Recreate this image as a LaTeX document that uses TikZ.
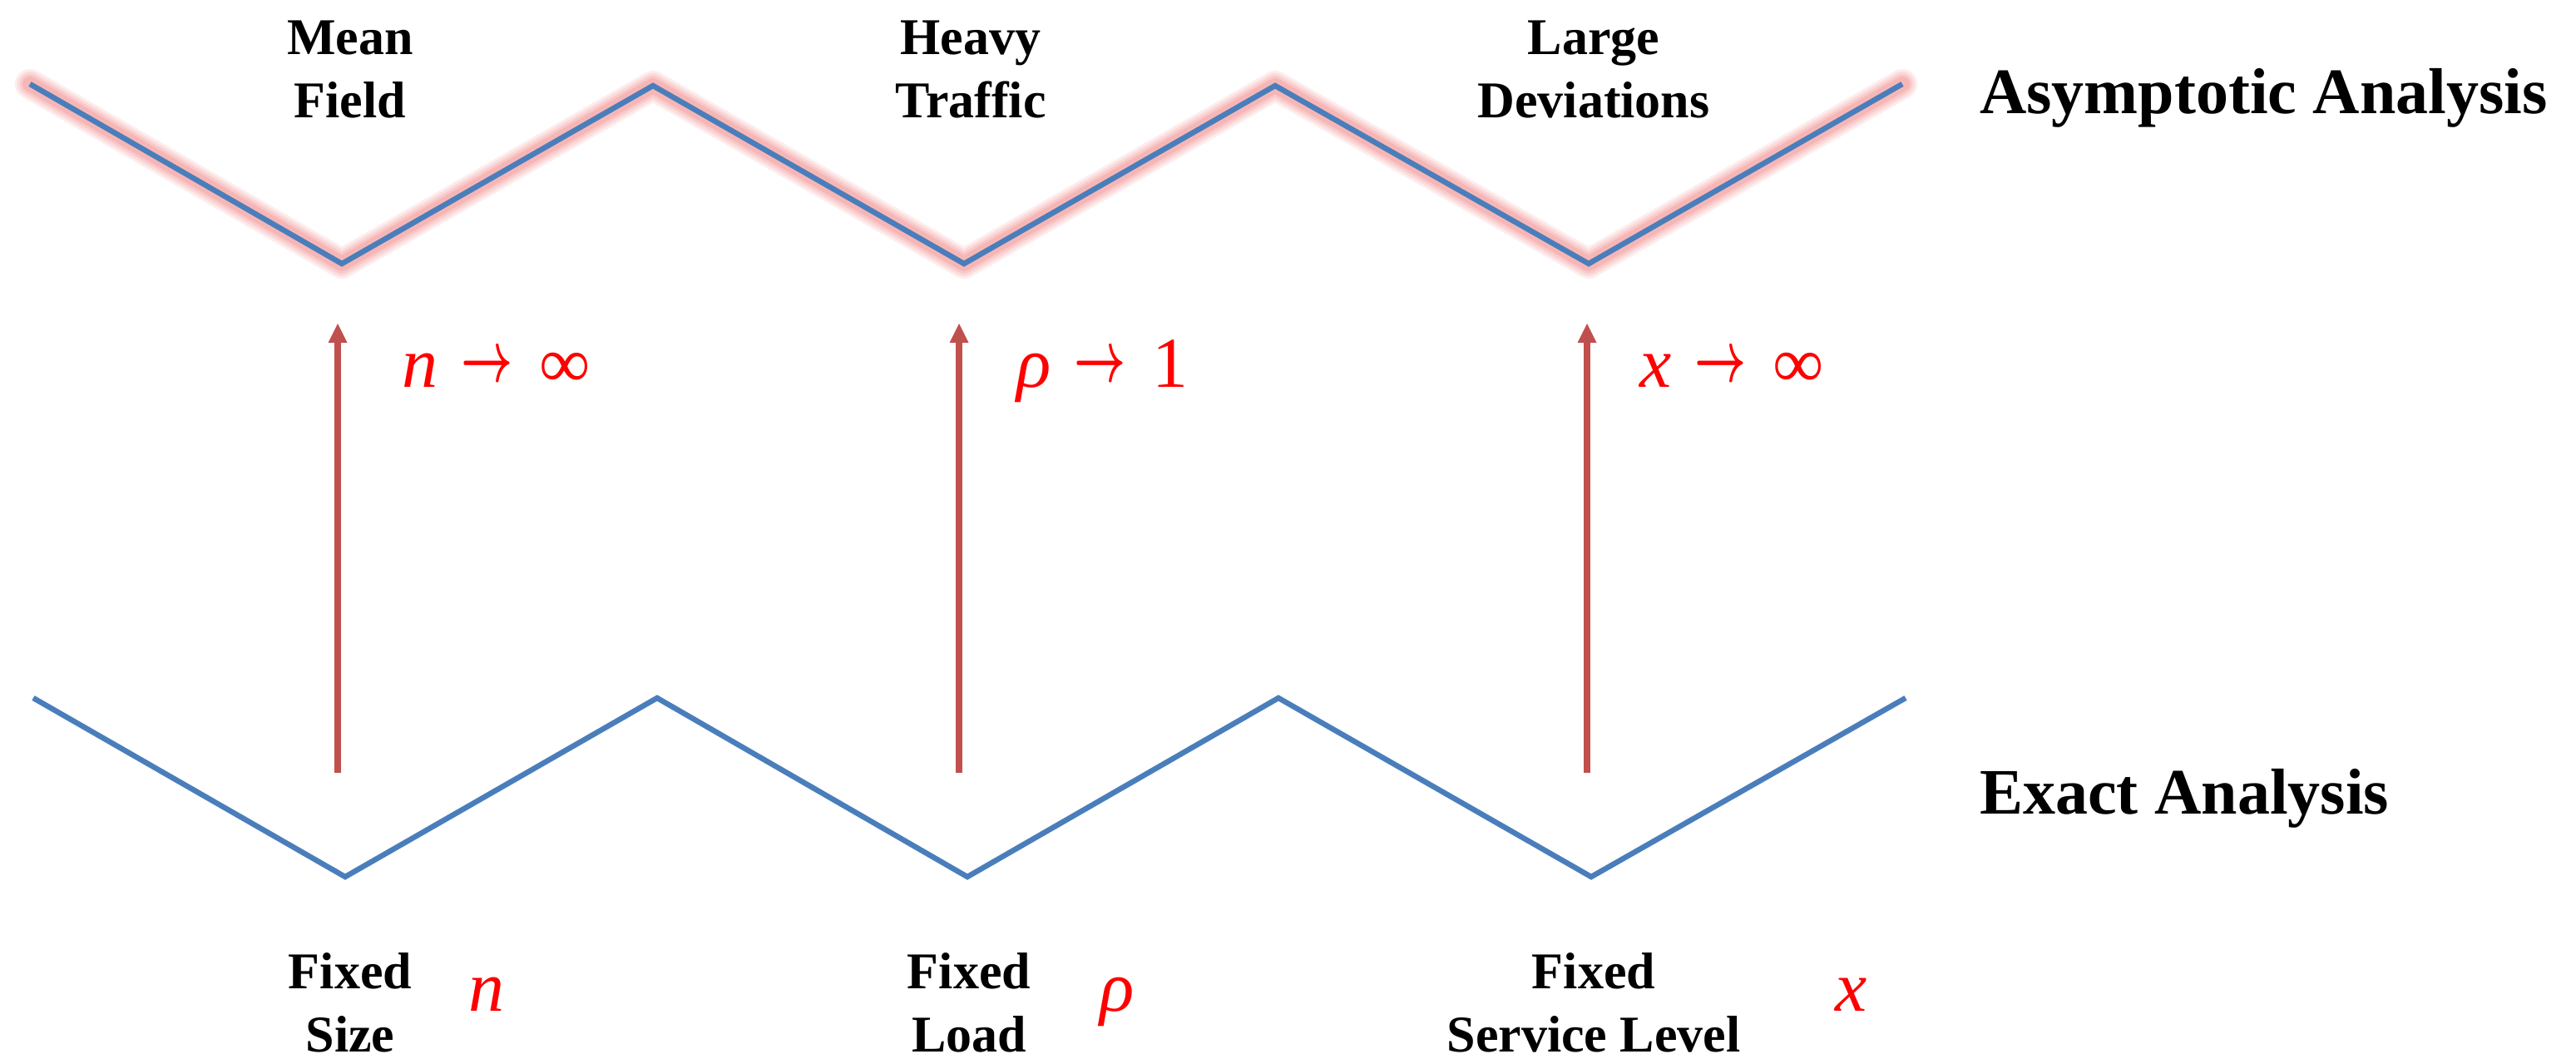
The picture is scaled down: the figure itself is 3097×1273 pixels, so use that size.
\documentclass[tikz,border=0pt]{standalone}
\usepackage{fontspec}
\usepackage{graphicx}
\setmainfont{Liberation Serif}
\usetikzlibrary{arrows.meta}
\definecolor{zigblue}{HTML}{4A7EBB}
\definecolor{arrred}{HTML}{C0504D}
\definecolor{glowpink}{HTML}{F49A9A}
\tikzset{
  zig/.style={draw=zigblue,line width=6.5pt,line join=miter},
  glowline/.style={draw=glowpink,line cap=round,line join=round},
  uparrow/.style={draw=arrred,line width=8pt,-{Triangle[width=23pt,length=23pt,line width=0pt]}},
  lab/.style={font=\fontsize{62}{76}\selectfont\bfseries,align=center,inner sep=0pt},
  biglab/.style={font=\fontsize{78}{90}\selectfont\bfseries,inner sep=0pt,anchor=base west},
  var/.style={font=\fontsize{86}{100}\selectfont,text=red,inner sep=0pt},
}
\newcommand{\myarrow}{\raisebox{7pt}{\resizebox{62pt}{34pt}{\boldmath$\rightarrow$}}}
\begin{document}
\begin{tikzpicture}[x=1pt,y=-1pt]
\path[use as bounding box] (0,0) rectangle (3097,1273);
% top zigzag
\coordinate (t0) at (36,101);
\coordinate (t1) at (411,317);
\coordinate (t2) at (785,103);
\coordinate (t3) at (1159,317);
\coordinate (t4) at (1533,103);
\coordinate (t5) at (1910,317);
\coordinate (t6) at (2287,101);
% bottom zigzag
\coordinate (b0) at (40,839);
\coordinate (b1) at (415,1054);
\coordinate (b2) at (790,839);
\coordinate (b3) at (1163,1054);
\coordinate (b4) at (1537,839);
\coordinate (b5) at (1913,1054);
\coordinate (b6) at (2291,839);
% glow
\foreach \w/\o in {36/0.18,30/0.22,24/0.28,18/0.4}
  \draw[glowline,line width=\w pt,opacity=\o] (t0)--(t1)--(t2)--(t3)--(t4)--(t5)--(t6);
\draw[zig] (t0)--(t1)--(t2)--(t3)--(t4)--(t5)--(t6);
\draw[zig] (b0)--(b1)--(b2)--(b3)--(b4)--(b5)--(b6);
% arrows
\coordinate (a1s) at (406,929); \coordinate (a1e) at (406,389);
\coordinate (a2s) at (1153,929); \coordinate (a2e) at (1153,389);
\coordinate (a3s) at (1908,929); \coordinate (a3e) at (1908,389);
\draw[uparrow] (a1s)--(a1e);
\draw[uparrow] (a2s)--(a2e);
\draw[uparrow] (a3s)--(a3e);
% top labels
\node[lab] (mf) at (421,84) {Mean\\Field};
\node[lab] (ht) at (1167,84) {Heavy\\Traffic};
\node[lab] (ld) at (1916,84) {Large\\Deviations};
\node[biglab] (aa) at (2380,137) {Asymptotic Analysis};
\node[biglab] (ea) at (2380,978) {Exact Analysis};
% limit labels
\node[var,anchor=base west] (l1) at (483,465) {\textit{n}\hspace{28pt}\myarrow\hspace{32pt}∞};
\node[var,anchor=base west] (l2) at (1222,465) {\textit{ρ}\hspace{28pt}\myarrow\hspace{32pt}1};
\node[var,anchor=base west] (l3) at (1971,465) {\textit{x}\hspace{28pt}\myarrow\hspace{32pt}∞};
% bottom labels
\node[lab] (fs) at (421,1205) {Fixed\\Size};
\node[lab] (fl) at (1165,1205) {Fixed\\Load};
\node[lab] (fsl) at (1916,1205) {Fixed\\Service Level};
\node[var,anchor=base] (v1) at (585,1215) {\textit{n}};
\node[var,anchor=base] (v2) at (1343,1215) {\textit{ρ}};
\node[var,anchor=base] (v3) at (2226,1215) {\textit{x}};
\end{tikzpicture}
\end{document}
